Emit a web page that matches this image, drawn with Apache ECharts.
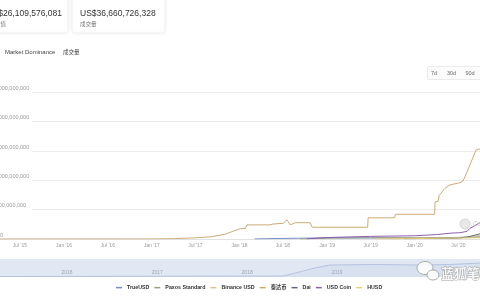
<!DOCTYPE html>
<html><head><meta charset="utf-8">
<script src="https://cdn.jsdelivr.net/npm/echarts@6/dist/echarts.min.js"></script>
<style>html,body{margin:0;padding:0;background:#fff;overflow:hidden}#c{width:480px;height:300px}</style>
</head><body><div id="c"></div>
<script>
// ---------- data ----------
const seriesNames = ['TrueUSD', 'Paxos Standard', 'Binance USD', '泰达币', 'Dai', 'USD Coin', 'HUSD'];

const trueUsdDates = ['2018-03-05', '2018-06-01', '2018-09-01', '2019-01-01', '2019-07-01', '2020-01-01', '2020-05-01', '2020-08-01', '2020-09-30'];
const trueUsdValues = [0.01, 0.08, 0.13, 0.2, 0.18, 0.13, 0.15, 0.3, 0.35];

const paxosDates = ['2018-09-10', '2019-01-01', '2019-07-01', '2020-01-01', '2020-06-01', '2020-09-30'];
const paxosValues = [0.01, 0.13, 0.22, 0.23, 0.25, 0.35];

const busdDates = ['2019-09-20', '2020-01-01', '2020-06-01', '2020-08-01', '2020-09-30'];
const busdValues = [0.01, 0.15, 0.18, 0.25, 0.65];

const tetherDates = ['2015-04-01', '2016-01-01', '2016-07-01', '2017-01-01', '2017-04-01', '2017-07-01', '2017-09-08', '2017-11-05', '2017-11-30', '2018-01-04', '2018-01-25', '2018-02-01', '2018-05-08', '2018-05-21', '2018-07-02', '2018-07-18', '2018-07-31', '2018-08-21', '2018-10-22', '2018-10-31', '2019-06-19', '2019-06-21', '2019-10-10', '2019-10-12', '2020-03-24', '2020-03-26', '2020-04-07', '2020-04-12', '2020-04-15', '2020-05-06', '2020-05-27', '2020-07-07', '2020-07-20', '2020-08-06', '2020-08-18', '2020-08-31', '2020-09-12', '2020-09-25', '2020-09-30'];
const tetherValues = [0.0003, 0.003, 0.006, 0.01, 0.06, 0.2, 0.39, 0.85, 1.25, 1.75, 1.8, 2.4, 2.4, 2.55, 2.67, 3.25, 2.4, 2.77, 2.77, 2.0, 2.0, 3.6, 3.6, 4.2, 4.2, 6.3, 6.4, 7.4, 7.7, 8.6, 9.2, 9.57, 9.86, 11.4, 12.6, 13.9, 15.1, 15.3, 15.3];

const daiDates = ['2019-11-18', '2020-03-01', '2020-07-01', '2020-08-10', '2020-09-30'];
const daiValues = [0.05, 0.11, 0.15, 0.35, 0.9];

const usdcDates = ['2018-10-08', '2019-01-01', '2019-07-01', '2020-01-01', '2020-04-01', '2020-06-01', '2020-07-07', '2020-08-06', '2020-08-18', '2020-09-21', '2020-09-30'];
const usdcValues = [0.02, 0.25, 0.45, 0.55, 0.75, 1.0, 1.07, 1.3, 1.8, 2.6, 2.8];

const husdDates = ['2019-07-20', '2020-01-01', '2020-06-01', '2020-09-30'];
const husdValues = [0.01, 0.07, 0.15, 0.2];

const navDates = ['2015-04-01', '2018-05-27', '2018-08-01', '2018-10-01', '2018-12-03', '2019-06-01', '2019-12-01', '2020-04-01', '2020-08-10'];
const navValues = [0.5, 1, 5, 9, 12, 12.5, 12, 12.5, 14];

const xTickDates = ['2015-07-01', '2016-01-01', '2016-07-01', '2017-01-01', '2017-07-01', '2018-01-01', '2018-07-01', '2019-01-01', '2019-07-01', '2020-01-01', '2020-07-01'];
const xTickLabels = ["Jul '15", "Jan '16", "Jul '16", "Jan '17", "Jul '17", "Jan '18", "Jul '18", "Jan '19", "Jul '19", "Jan '20", "Jul '20"];
const navTickDates = ['2016-01-01', '2017-01-01', '2018-01-01', '2019-01-01'];
const navTickLabels = ['2016', '2017', '2018', '2019'];

// ---------- build ----------
function ts(s) { const p = s.split('-').map(Number); return Date.UTC(p[0], p[1] - 1, p[2]); }
function pairs(d, v) { return d.map((s, i) => [ts(s), v[i] * 1e9]); }

const seriesData = [
  pairs(trueUsdDates, trueUsdValues), pairs(paxosDates, paxosValues), pairs(busdDates, busdValues),
  pairs(tetherDates, tetherValues), pairs(daiDates, daiValues), pairs(usdcDates, usdcValues), pairs(husdDates, husdValues)
];
const colors = ['#6f8fc4', '#9a9f86', '#dcc58e', '#ccab78', '#5e6a80', '#8d5fb0', '#e6cf7c'];

const xLabelMap = {}; xTickDates.forEach((d, i) => xLabelMap[ts(d)] = xTickLabels[i]);
const navLabelMap = {}; navTickDates.forEach((d, i) => navLabelMap[ts(d)] = navTickLabels[i]);

const FONT = '"Liberation Sans", "Noto Sans CJK SC", sans-serif';
const chart = echarts.init(document.getElementById('c'), null, { renderer: 'canvas' });

const series = seriesNames.map((n, i) => ({
  name: n, type: 'line', xAxisIndex: 0, yAxisIndex: 0, data: seriesData[i],
  showSymbol: false, symbol: 'none', lineStyle: { width: 1, color: colors[i] }, itemStyle: { color: colors[i] },
  z: n === '泰达币' ? 4 : 3, animation: false
}));
series.push({
  name: 'nav', type: 'line', xAxisIndex: 2, yAxisIndex: 2,
  data: navDates.map((d, i) => [ts(d), navValues[i]]), showSymbol: false, symbol: 'none',
  lineStyle: { width: 0.8, color: '#a9bbdc' }, areaStyle: { color: 'rgba(170,190,225,0.25)' }, animation: false
});

const option = {
  animation: false,
  textStyle: { fontFamily: FONT },
  grid: [
    { left: 0, right: 0, top: 92, bottom: 61, outerBoundsMode: 'none', containLabel: false },
    { left: 32, right: 0, top: 92, bottom: 61, outerBoundsMode: 'none', containLabel: false },
    { left: 0, right: 0, top: 259, height: 18, show: true, backgroundColor: '#e2e8f3', borderWidth: 0, outerBoundsMode: 'none', containLabel: false }
  ],
  xAxis: [
    {
      type: 'value', gridIndex: 0, min: ts('2015-04-09'), max: ts('2020-09-29'),
      axisLine: { show: true, lineStyle: { color: '#e2e2e2', width: 1 } }, axisTick: { show: false },
      splitLine: { show: false },
      axisLabel: {
        customValues: xTickDates.map(ts), formatter: v => xLabelMap[v] || '',
        fontSize: 5, color: '#999', margin: 4, fontFamily: FONT
      }
    },
    { type: 'value', gridIndex: 1, min: ts('2015-04-09'), max: ts('2020-09-29'), show: false },
    {
      type: 'value', gridIndex: 2, min: ts('2015-04-04'), max: ts('2020-08-03'),
      axisLine: { show: false }, axisTick: { show: false }, splitLine: { show: false },
      axisLabel: {
        inside: true, margin: 2, customValues: navTickDates.map(ts), formatter: v => navLabelMap[v] || '',
        fontSize: 5, color: '#9aa3b0', fontFamily: FONT
      }
    }
  ],
  yAxis: [
    {
      type: 'value', gridIndex: 0, min: 0, max: 25e9, interval: 5e9,
      axisLine: { show: false }, axisTick: { show: false }, splitLine: { show: false },
      axisLabel: {
        inside: false, margin: 9, align: 'left', verticalAlign: 'bottom', fontSize: 5.5, color: '#9a9a9a',
        fontFamily: FONT, padding: [0, 0, 1, 0],
        formatter: v => v === 0 ? '{z|0}' : v.toLocaleString('en-US'),
        rich: { z: { padding: [0, 0, 0, 9], fontSize: 5.5, color: '#9a9a9a', fontFamily: FONT } }
      }
    },
    {
      type: 'value', gridIndex: 1, min: 0, max: 25e9, interval: 5e9,
      axisLine: { show: false }, axisTick: { show: false }, axisLabel: { show: false },
      splitLine: { show: true, lineStyle: { color: '#ececec', width: 1 } }
    },
    { type: 'value', gridIndex: 2, min: 0, max: 18, show: false }
  ],
  legend: {
    data: seriesNames, top: 280, left: 111, icon: 'rect', itemWidth: 6, itemHeight: 1.5, itemGap: 5,
    textStyle: { fontSize: 5.3, fontWeight: 'bold', color: '#333', fontFamily: FONT }
  },
  series: series,
  graphic: [
    { type: 'rect', shape: { x: -30, y: -10, width: 98, height: 43, r: 3 }, style: { fill: '#fff', stroke: '#f1f1f1', lineWidth: 1, shadowBlur: 5, shadowColor: 'rgba(0,0,0,0.07)' } },
    { type: 'rect', shape: { x: 72, y: -10, width: 93, height: 43, r: 3 }, style: { fill: '#fff', stroke: '#f1f1f1', lineWidth: 1, shadowBlur: 5, shadowColor: 'rgba(0,0,0,0.07)' } },
    { type: 'text', x: 62, y: 14, style: { text: 'US$26,109,576,081', font: '8.5px ' + FONT, fill: '#333', align: 'right', verticalAlign: 'middle' } },
    { type: 'text', x: 6, y: 24.5, style: { text: '市值', font: '5.5px ' + FONT, fill: '#777', align: 'right', verticalAlign: 'middle' } },
    { type: 'text', x: 80, y: 14, style: { text: 'US$36,660,726,328', font: '8.5px ' + FONT, fill: '#333', align: 'left', verticalAlign: 'middle' } },
    { type: 'text', x: 80, y: 24.5, style: { text: '成交量', font: '5.5px ' + FONT, fill: '#777', align: 'left', verticalAlign: 'middle' } },
    { type: 'text', x: 5, y: 52, style: { text: 'Market Dominance', font: '6px ' + FONT, fill: '#444', align: 'left', verticalAlign: 'middle' } },
    { type: 'text', x: 63, y: 52, style: { text: '成交量', font: '5.5px ' + FONT, fill: '#444', align: 'left', verticalAlign: 'middle' } },
    { type: 'rect', shape: { x: 427.5, y: 66.5, width: 60, height: 13, r: 1 }, style: { fill: '#fcfcfc', stroke: '#ebebeb', lineWidth: 1 } },
    { type: 'text', x: 434, y: 73, style: { text: '7d', font: '5.5px ' + FONT, fill: '#666', align: 'center', verticalAlign: 'middle' } },
    { type: 'text', x: 451.5, y: 73, style: { text: '30d', font: '5.5px ' + FONT, fill: '#666', align: 'center', verticalAlign: 'middle' } },
    { type: 'text', x: 470, y: 73, style: { text: '90d', font: '5.5px ' + FONT, fill: '#666', align: 'center', verticalAlign: 'middle' } },
    { type: 'circle', shape: { cx: 465, cy: 224, r: 5 }, style: { fill: '#e8e8e8', stroke: '#d4d4d4', lineWidth: 1 }, z: 10 },
    { type: 'text', x: 473, y: 224, style: { text: 'Co', font: '7px ' + FONT, fill: '#c4c4c4', align: 'left', verticalAlign: 'middle' }, z: 10 },
    { type: 'ellipse', shape: { cx: 425, cy: 268, rx: 8, ry: 6.5 }, style: { fill: 'rgba(255,255,255,0.85)', stroke: '#a8a8a8', lineWidth: 1 }, z: 10 },
    { type: 'ellipse', shape: { cx: 433, cy: 275, rx: 6, ry: 5 }, style: { fill: 'rgba(255,255,255,0.9)', stroke: '#a8a8a8', lineWidth: 1 }, z: 10 },
    { type: 'text', x: 441, y: 273, style: { text: '蓝狐笔记', font: 'bold 13px "Noto Sans CJK SC"', fill: 'rgba(255,255,255,0.85)', stroke: '#a0a0a0', lineWidth: 0.8, align: 'left', verticalAlign: 'middle' }, z: 10 }
  ]
};
chart.setOption(option);
</script></body></html>
